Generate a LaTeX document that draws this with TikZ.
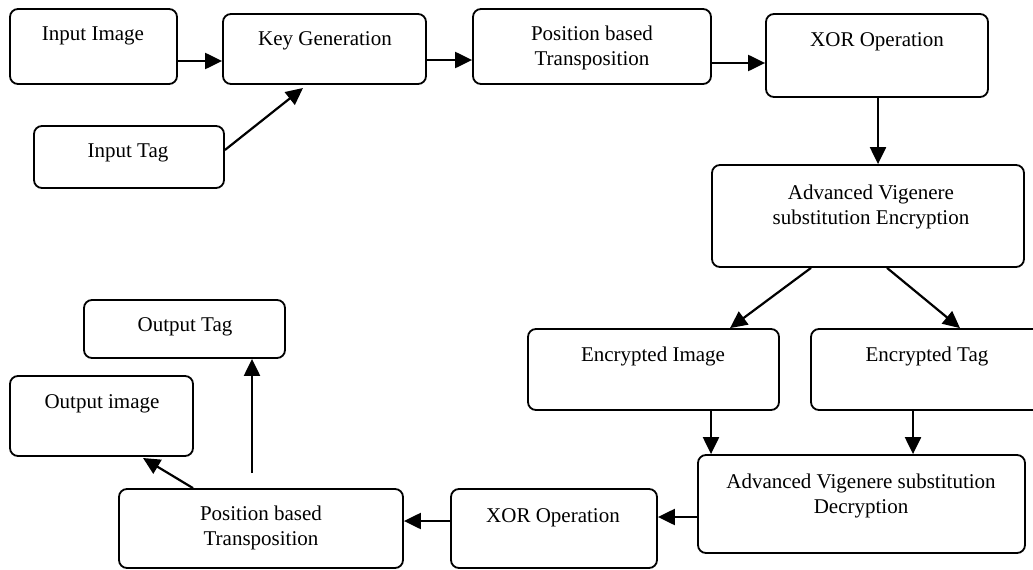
\documentclass[tikz,border=0pt]{standalone}
\usepackage{fontspec}
\setmainfont{Liberation Serif}
\usetikzlibrary{arrows.meta}
\begin{document}
\begin{tikzpicture}[x=1pt,y=-1pt,
  box/.style={draw=black,line width=1.8pt,rounded corners=8pt,inner sep=0pt},
  txt/.style={font=\fontsize{21}{24.5}\selectfont,align=center,inner sep=0pt},
  arr/.style={line width=2.2pt,-{Triangle[length=17pt,width=16pt]}}]
\useasboundingbox (0,0) rectangle (1033,570);
\newcommand{\bx}[5]{\node[box,minimum width={#4-#2},minimum height={#5-#3}] (#1) at ({(#2+#4)/2},{(#3+#5)/2}) {};}
\bx{inimg}{10}{9}{177}{84}
\bx{keygen}{223}{14}{426}{84}
\bx{pbta}{473}{9}{711}{84}
\bx{xora}{766}{14}{988}{97}
\bx{intag}{34}{126}{224}{188}
\bx{ave}{712}{165}{1024}{267}
\bx{encimg}{528}{329}{779}{410}
\bx{enctag}{811}{329}{1050}{410}
\bx{avd}{698}{455}{1025}{553}
\bx{xorb}{451}{489}{657}{568}
\bx{pbtb}{119}{489}{403}{568}
\bx{outtag}{84}{300}{285}{358}
\bx{outimg}{10}{376}{193}{456}
\node[txt] (t1) at (93,36) {Input Image};
\node[txt] (t2) at (325,41) {Key Generation};
\node[txt] (t3) at (592,48) {Position based\\Transposition};
\node[txt] (t4) at (877,42) {XOR Operation};
\node[txt] (t5) at (128,153) {Input Tag};
\node[txt] (t6) at (871,207) {Advanced Vigenere\\substitution Encryption};
\node[txt] (t7) at (653,356) {Encrypted Image};
\node[txt] (t8) at (927,356) {Encrypted Tag};
\node[txt] (t9) at (861,496) {Advanced Vigenere substitution\\Decryption};
\node[txt] (t10) at (553,518) {XOR Operation};
\node[txt] (t11) at (261,528) {Position based\\Transposition};
\node[txt] (t12) at (185,327) {Output Tag};
\node[txt] (t13) at (102,404) {Output image};
\coordinate (tagtail) at (252,473);
\draw[arr] (inimg.east |- 0,61) -- (keygen.west |- 0,61);
\draw[arr] (intag.east |- 0,150) -- (303,88);
\draw[arr] (keygen.east |- 0,60) -- (pbta.west |- 0,60);
\draw[arr] (pbta.east |- 0,63) -- (xora.west |- 0,63);
\draw[arr] (xora.south -| 878,0) -- (ave.north -| 878,0);
\draw[arr] (ave.south -| 811,0) -- (encimg.north -| 730,0);
\draw[arr] (ave.south -| 887,0) -- (enctag.north -| 960,0);
\draw[arr] (encimg.south -| 711,0) -- (avd.north -| 711,0);
\draw[arr] (enctag.south -| 913,0) -- (avd.north -| 913,0);
\draw[arr] (avd.west |- 0,517) -- (xorb.east |- 0,517);
\draw[arr] (xorb.west |- 0,521) -- (pbtb.east |- 0,521);
\draw[arr] (tagtail) -- (outtag.south -| tagtail);
\draw[arr] (pbtb.north -| 193,0) -- (143,458);
\end{tikzpicture}
\end{document}
